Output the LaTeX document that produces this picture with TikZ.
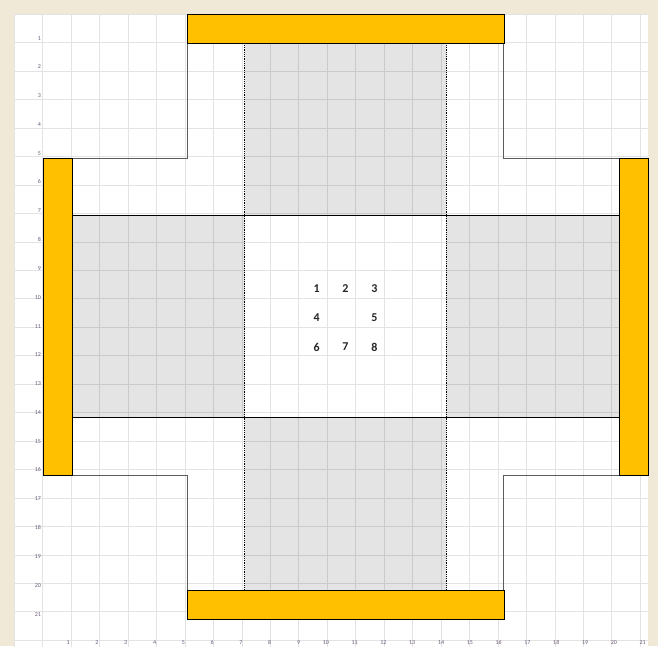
\documentclass[tikz,border=0pt]{standalone}
\usepackage{fontspec}
\setmainfont{Carlito}
\definecolor{parch}{HTML}{F1E9D8}
\definecolor{orng}{HTML}{FFC000}
\definecolor{cellgray}{HTML}{E4E4E4}
\definecolor{outl}{HTML}{5C5C5C}
\definecolor{lbl}{HTML}{6A5A78}
\tikzset{
  gridln/.style={draw=black, opacity=0.11, line width=0.7pt},
  bar/.style={fill=orng, draw=black, line width=0.8pt},
  crossline/.style={draw=outl, line width=1pt},
  sepline/.style={draw=black, line width=1pt},
  dotline/.style={draw=black, line width=0.9pt, dash pattern=on 0.9pt off 0.9pt},
  num/.style={font=\fontsize{12}{13}\selectfont\bfseries, text=black!85, inner sep=0pt},
  rowlbl/.style={font=\fontsize{6}{7}\selectfont, text=lbl, inner sep=0pt, anchor=south east},
}
\begin{document}
\begin{tikzpicture}[x=1pt,y=-1pt]
\useasboundingbox (0,0) rectangle (658,646);
\clip (0,0) rectangle (658,646);
\fill[parch] (0,0) rectangle (658,646);
\begin{scope}[shift={(14.3,14.3)}, x=28.8pt, y=-28.8pt]
  % sheet
  \fill[white] (0,0) rectangle (22,22.5);
  % gray zones
  \fill[cellgray] (8,1) rectangle (15,7);
  \fill[cellgray] (2,7) rectangle (8,14);
  \fill[cellgray] (15,7) rectangle (21,14);
  \fill[cellgray] (8,14) rectangle (15,20);
  % orange bars (fill)
  \fill[orng] (6,0) rectangle (17,1);
  \fill[orng] (6,20) rectangle (17,21);
  \fill[orng] (1,5) rectangle (2,16);
  \fill[orng] (21,5) rectangle (22,16);
  % grid
  \draw[gridln] (0,0) grid (22,22.5);
  % cross outline
  \draw[crossline] (6,1) -- (6,5) -- (2,5) -- (2,16) -- (6,16) -- (6,20)
     -- (17,20) -- (17,16) -- (21,16) -- (21,5) -- (17,5) -- (17,1) -- cycle;
  % separators
  \draw[sepline] (2,7) -- (21,7);
  \draw[sepline] (2,14) -- (21,14);
  \draw[dotline] (8,1) -- (8,20);
  \draw[dotline] (15,1) -- (15,20);
  % orange bars (border)
  \draw[bar] (6,0) rectangle (17,1);
  \draw[bar] (6,20) rectangle (17,21);
  \draw[bar] (1,5) rectangle (2,16);
  \draw[bar] (21,5) rectangle (22,16);
  % numbers
  \node[num] (n1) at (10.5,9.53) {1};
  \node[num] (n2) at (11.5,9.53) {2};
  \node[num] (n3) at (12.5,9.53) {3};
  \node[num] (n4) at (10.5,10.53) {4};
  \node[num] (n5) at (12.5,10.53) {5};
  \node[num] (n6) at (10.5,11.55) {6};
  \node[num] (n7) at (11.5,11.55) {7};
  \node[num] (n8) at (12.5,11.55) {8};
  % row labels
  \foreach \i in {1,...,21} {
    \node[rowlbl] (r\i) at (0.93,\i-0.1) {\i};
  }
  % column labels
  \foreach \j in {1,...,21} {
    \node[rowlbl] (c\j) at (\j+0.93,21.9) {\j};
  }
\end{scope}
\end{tikzpicture}
\end{document}
